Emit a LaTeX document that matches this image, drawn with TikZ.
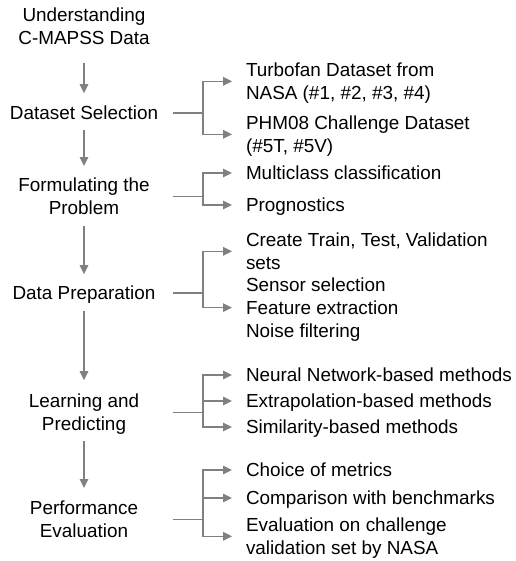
\documentclass[tikz,border=0pt]{standalone}
\usepackage{fontspec}
\setmainfont{Liberation Sans}
\usetikzlibrary{arrows.meta}
\definecolor{linegray}{RGB}{128,128,128}
\begin{document}
\begin{tikzpicture}[x=1pt,y=-1pt,
  every node/.style={inner sep=0pt,outer sep=0pt,font=\fontsize{18.9pt}{22.7pt}\selectfont},
  stepnode/.style={align=center},
  itemnode/.style={align=left,anchor=west},
  oneline/.style={text depth=0pt},
  conn/.style={draw=linegray,line width=1.5pt},
  arr/.style={conn,-{Triangle[length=9pt,width=8.5pt]}}]
\useasboundingbox (0,0) rectangle (515,561);
% left column
\node[stepnode] (n1) at (84,26.3) {Understanding\\C-MAPSS Data};
\node[stepnode,oneline] (n2) at (84,113) {Dataset Selection};
\node[stepnode] (n3) at (84,196.3) {Formulating the\\Problem};
\node[stepnode,oneline] (n4) at (84,293) {Data Preparation};
\node[stepnode] (n5) at (84,412.3) {Learning and\\\smash{Predicting}};
\node[stepnode] (n6) at (84,519.3) {Performance\\Evaluation};
% right column
\node[itemnode] (t1) at (246,81.3) {Turbofan Dataset from\\\smash{NASA (\#1, \#2, \#3, \#4)}};
\node[itemnode] (t2) at (246,134.3) {PHM08 Challenge Dataset\\\smash{(\#5T, \#5V)}};
\node[itemnode,oneline] (t3) at (246,173) {Multiclass classification};
\node[itemnode,oneline] (t4) at (246,205) {Prognostics};
\node[itemnode] (t5) at (246,251.3) {Create Train, Test, Validation\\sets};
\node[itemnode] (t6) at (246,307.6) {Sensor selection\\Feature extraction\\\smash{Noise filtering}};
\node[itemnode,oneline] (t7) at (246,375) {Neural Network-based methods};
\node[itemnode,oneline] (t8) at (246,401) {Extrapolation-based methods};
\node[itemnode,oneline] (t9) at (246,427) {Similarity-based methods};
\node[itemnode,oneline] (t10) at (246,470) {Choice of metrics};
\node[itemnode,oneline] (t11) at (246,498) {Comparison with benchmarks};
\node[itemnode] (t12) at (246,536.3) {Evaluation on challenge\\\smash{validation set by NASA}};
% vertical flow
\draw[arr,shorten <=18.5pt,shorten >=13pt] (n1) -- (n2);
\draw[arr,shorten <=10.2pt,shorten >=12pt] (n2) -- (n3);
\draw[arr,shorten <=11.5pt,shorten >=12pt] (n3) -- (n4);
\draw[arr,shorten <=11.2pt,shorten >=14pt] (n4) -- (n5);
\draw[arr,shorten <=10.5pt,shorten >=13pt] (n5) -- (n6);
% bracket columns
\coordinate (xs) at (173,0);
\coordinate (xj) at (203,0);
\foreach \n in {n2,n3,n4,n5,n6}{
  \draw[conn] (\n -| xs) -- (\n -| xj);
}
\draw[arr,shorten >=14pt] (n2 -| xj) |- (t1);
\draw[arr,shorten >=14pt] (n2 -| xj) |- (t2);
\draw[arr,shorten >=14pt] (n3 -| xj) |- (t3);
\draw[arr,shorten >=14pt] (n3 -| xj) |- (t4);
\draw[arr,shorten >=14pt] (n4 -| xj) |- (t5);
\draw[arr,shorten >=14pt] (n4 -| xj) |- (t6);
\draw[arr,shorten >=14pt] (n5 -| xj) |- (t7);
\draw[arr,shorten >=14pt] (n5 -| xj) |- (t8);
\draw[arr,shorten >=14pt] (n5 -| xj) |- (t9);
\draw[arr,shorten >=14pt] (n6 -| xj) |- (t10);
\draw[arr,shorten >=14pt] (n6 -| xj) |- (t11);
\draw[arr,shorten >=14pt] (n6 -| xj) |- (t12);
\end{tikzpicture}
\end{document}
